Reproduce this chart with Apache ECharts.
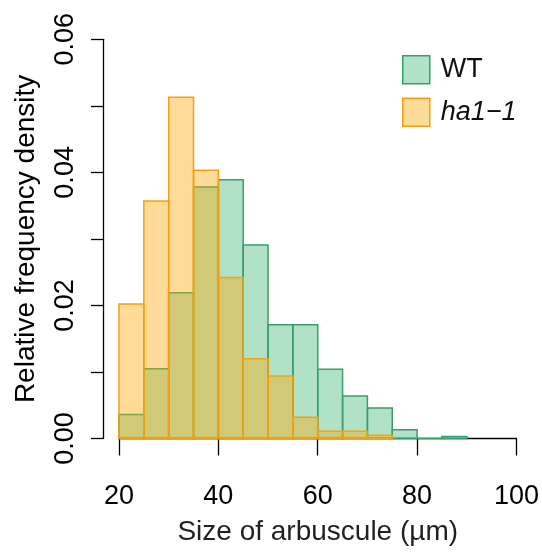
<!DOCTYPE html>
<html>
<head>
<meta charset="utf-8">
<script src="https://cdn.jsdelivr.net/npm/echarts@6/dist/echarts.min.js"></script>
<style>
  html, body { margin: 0; padding: 0; background: #fff; }
  #chart { width: 542px; height: 552px; }
</style>
</head>
<body>
<div id="chart"></div>
<script>
// histogram breaks (bin edges, um)
var wtBreaks = [20, 25, 30, 35, 40, 45, 50, 55, 60, 65, 70, 75, 80, 85, 90];
var ha1Breaks = [20, 25, 30, 35, 40, 45, 50, 55, 60, 65, 70, 75];
// relative frequency density per bin
var wtDensity = [0.0036, 0.0105, 0.0219, 0.0378, 0.0389, 0.0291, 0.0171, 0.0171, 0.0104, 0.0064, 0.0046, 0.0013, 0, 0.0003];
var ha1Density = [0.0202, 0.0357, 0.0513, 0.0403, 0.0242, 0.0120, 0.0094, 0.0032, 0.0011, 0.0011, 0.0005];
var yTickLabels = ['0.00', '', '0.02', '', '0.04', '', '0.06'];
var seriesNames = ['WT', 'ha1\u22121'];

var FONT = '"Liberation Sans", Arial, Helvetica, sans-serif';
var wtStyle = { color: 'rgba(60,179,113,0.4)', borderColor: '#3a9e6e', borderWidth: 1.5 };
var haStyle = { color: 'rgba(255,165,0,0.4)', borderColor: '#f5a00f', borderWidth: 1.5 };

function toBins(breaks, dens) {
    var out = [];
    for (var i = 0; i < dens.length; i++) {
        out.push([breaks[i], breaks[i + 1], dens[i]]);
    }
    return out;
}

function histItem(st) {
    return function (params, api) {
        var p0 = api.coord([api.value(0), 0]);
        var p1 = api.coord([api.value(1), api.value(2)]);
        return {
            type: 'rect',
            shape: { x: p0[0], y: p1[1], width: p1[0] - p0[0], height: p0[1] - p1[1] },
            style: { fill: st.color, stroke: st.borderColor, lineWidth: st.borderWidth }
        };
    };
}

var myChart = echarts.init(document.getElementById('chart'), null, { renderer: 'canvas' });

var option = {
    animation: false,
    backgroundColor: '#fff',
    textStyle: { fontFamily: FONT },
    grid: { left: 119, right: 24, top: 39.3, bottom: 113.5, containLabel: false },
    legend: {
        orient: 'vertical',
        left: 397,
        top: 50,
        icon: 'rect',
        itemWidth: 27,
        itemHeight: 28,
        itemGap: 13,
        selectedMode: false,
        textStyle: { fontFamily: FONT, fontSize: 27, color: '#111', padding: [0, 0, 0, 6] },
        data: [
            { name: seriesNames[0], itemStyle: wtStyle },
            { name: seriesNames[1], itemStyle: haStyle, textStyle: { fontStyle: 'italic' } }
        ]
    },
    xAxis: {
        type: 'value',
        min: 20,
        max: 100,
        interval: 20,
        offset: 17,
        name: 'Size of arbuscule (\u00b5m)',
        nameLocation: 'middle',
        nameGap: 63,
        nameTextStyle: { fontFamily: FONT, fontSize: 28, color: '#231f20' },
        axisLine: { show: true, lineStyle: { color: '#000', width: 1.3 } },
        axisTick: { show: true, length: 17, lineStyle: { color: '#000', width: 1.3 } },
        axisLabel: { fontFamily: FONT, fontSize: 27, color: '#000', margin: 28 },
        splitLine: { show: false }
    },
    yAxis: {
        type: 'value',
        min: 0,
        max: 0.06,
        interval: 0.01,
        offset: 16,
        name: 'Relative frequency density',
        nameLocation: 'middle',
        nameRotate: 90,
        nameGap: 63,
        nameTextStyle: { fontFamily: FONT, fontSize: 28, color: '#000' },
        axisLine: { show: true, lineStyle: { color: '#000', width: 1.3 } },
        axisTick: { show: true, length: 12, lineStyle: { color: '#000', width: 1.3 } },
        axisLabel: {
            fontFamily: FONT, fontSize: 27, color: '#000', rotate: 90, margin: 24,
            formatter: function (v, idx) { return yTickLabels[idx]; }
        },
        splitLine: { show: false }
    },
    series: [
        {
            name: seriesNames[0],
            type: 'custom',
            itemStyle: wtStyle,
            renderItem: histItem(wtStyle),
            encode: { x: [0, 1], y: 2 },
            data: toBins(wtBreaks, wtDensity)
        },
        {
            name: seriesNames[1],
            type: 'custom',
            itemStyle: haStyle,
            renderItem: histItem(haStyle),
            encode: { x: [0, 1], y: 2 },
            data: toBins(ha1Breaks, ha1Density)
        }
    ]
};

myChart.setOption(option);
</script>
</body>
</html>
